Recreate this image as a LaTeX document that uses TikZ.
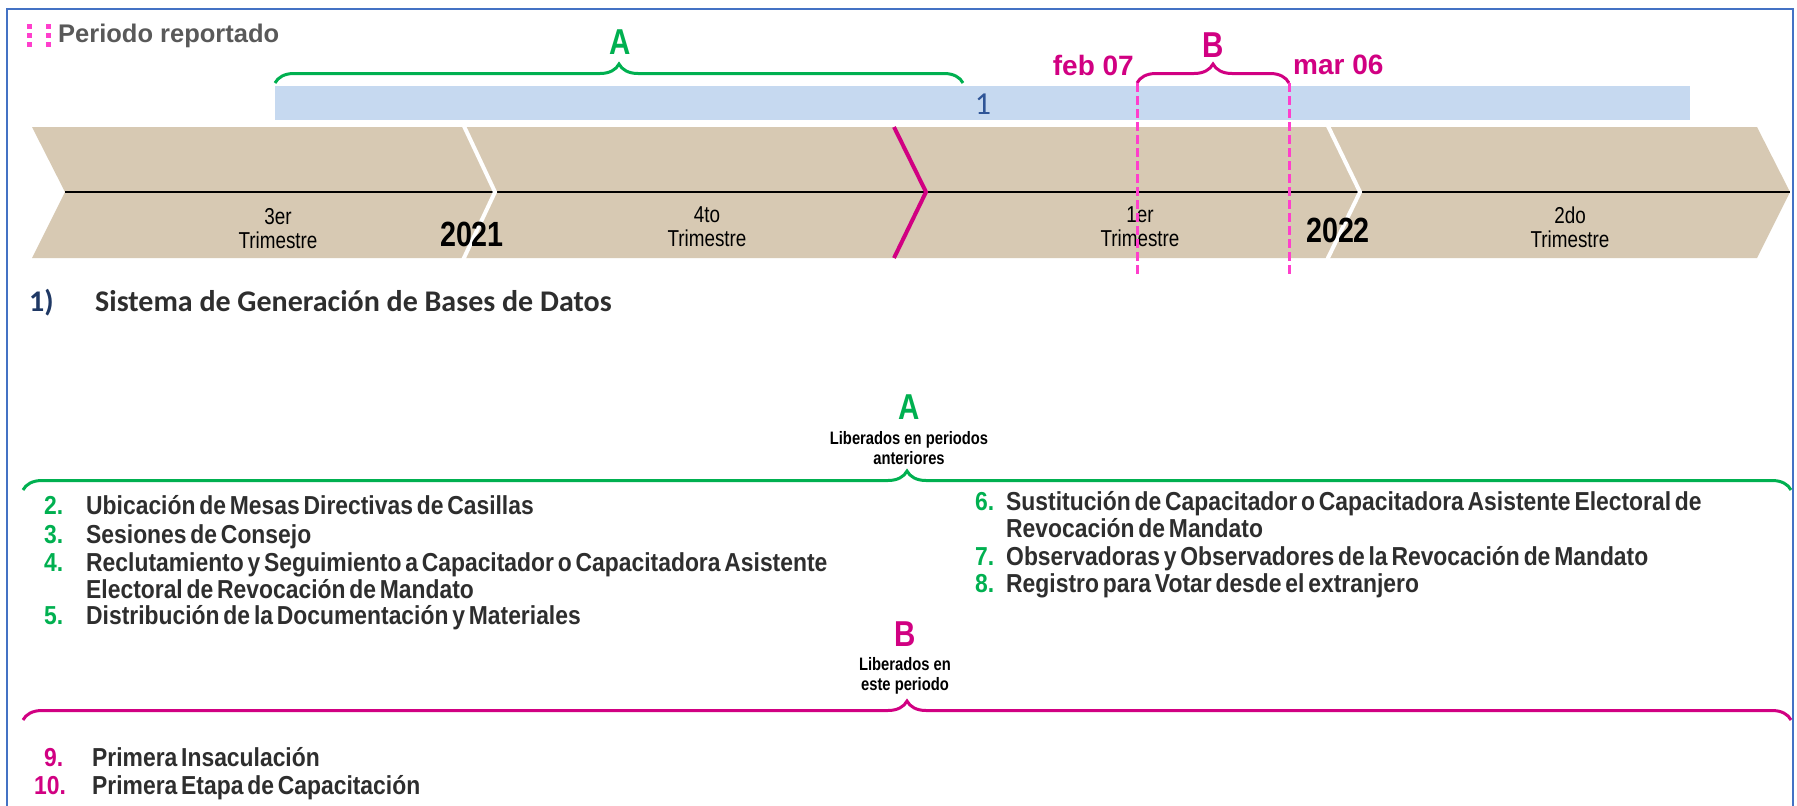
\documentclass[tikz,border=0pt]{standalone}
\usepackage{fontspec}
\setmainfont{Liberation Sans}
\newfontfamily\narrowf[FakeStretch=0.82]{Liberation Sans}
\newfontfamily\listf[FakeStretch=0.88,WordSpace=0.6]{Liberation Sans}
\newfontfamily\calib{Carlito}
\usetikzlibrary{decorations.pathreplacing}
\definecolor{frameblue}{HTML}{4472C4}
\definecolor{tanc}{HTML}{D7C9B3}
\definecolor{barblue}{HTML}{C6D9F0}
\definecolor{grn}{HTML}{00B050}
\definecolor{mag}{HTML}{D10082}
\definecolor{pinkc}{HTML}{FF3FCC}
\definecolor{navy}{HTML}{1F3864}
\definecolor{txtc}{HTML}{2E2E2E}
\definecolor{greyc}{HTML}{595959}
\definecolor{onec}{HTML}{2F5597}
\newcommand{\fs}[1]{\fontsize{#1}{#1}\selectfont}
\begin{document}
\begin{tikzpicture}[x=1pt,y=-1pt,
  item/.style={font=\listf\bfseries\fs{26}, text=txtc, inner sep=0pt, anchor=base west},
  gnum/.style={item, text=grn},
  mnum/.style={item, text=mag},
  bigletter/.style={font=\narrowf\bfseries\fs{36}, inner sep=0pt},
  datelbl/.style={font=\bfseries\fs{28}, text=mag, inner sep=0pt},
  small/.style={font=\narrowf\bfseries\fs{18}, align=center, inner sep=0pt},
  trim/.style={font=\narrowf\fontsize{23}{23}\selectfont, align=center, inner sep=0pt, text=black},
  year/.style={font=\narrowf\bfseries\fs{35}, inner sep=0pt, text=black},
  bracestyle/.style={decorate, decoration={brace, amplitude=19pt}, line width=3pt},
  dashline/.style={pinkc, line width=3pt, dash pattern=on 9pt off 4pt},
  dot/.style={fill=pinkc, draw=none, minimum size=5pt, inner sep=0pt}]
\useasboundingbox (0,0) rectangle (1797,806);
\fill[white] (0,0) rectangle (1797,806);
% frame
\draw[frameblue, line width=2pt] (7,812) -- (7,9) -- (1793,9) -- (1793,812);
% legend icon
\foreach \i/\yy in {1/26,2/35,3/44}{
  \node[dot] (dl\i) at (29,\yy) {};
  \node[dot] (dr\i) at (48,\yy) {};
}
\node[font=\bfseries\fs{25.5}, text=greyc, anchor=west, inner sep=0pt] (leg) at (58,36) {Periodo reportado};
% blue bar
\fill[barblue] (275,86) rectangle (1690,120);
\node[font=\calib\fs{32}, text=onec, inner sep=0pt] (one) at (983,104) {1};
% chevron band
\fill[tanc] (32,127) -- (1757,127) -- (1790,192) -- (1757,258) -- (32,258) -- (65,192) -- cycle;
\coordinate (l0) at (65,192);
\coordinate (l1) at (1790,192);
\draw[black, line width=2pt] (l0) -- (l1);
\draw[white, line width=4pt] (463,124) -- (495,192) -- (463,260);
\draw[white, line width=4pt] (1327,124) -- (1360,192) -- (1327,260);
\draw[mag, line width=4pt] (894,127) -- (926,192) -- (894,258);
% timeline labels
\node[trim] (q3) at (278,229) {3er\\[1pt]Trimestre};
\node[trim] (q4) at (707,227) {4to\\[1pt]Trimestre};
\node[trim] (q1) at (1140,227) {1er\\[1pt]Trimestre};
\node[trim] (q2) at (1570,227) {2do\\[1pt]Trimestre};
\node[year] (y21) at (472,234) {2021};
\node[year] (y22) at (1338,230) {2022};
% top braces
\coordinate (aL) at (275,83);
\coordinate (aR) at (963,83);
\draw[bracestyle, grn] (aL) -- (aR);
\node[bigletter, text=grn] (Atop) at (620,42) {A};
\coordinate (bL) at (1137,83);
\coordinate (bR) at (1289,83);
\draw[bracestyle, mag] (bL) -- (bR);
\node[bigletter, text=mag] (Btop) at (1213,45) {B};
\node[datelbl, anchor=east] (feb) at (1134,65) {feb 07};
\node[datelbl, anchor=west] (mar) at (1293,65) {mar 06};
% dashed lines
\coordinate (d1b) at (1137,275);
\coordinate (d2b) at (1289,275);
\draw[dashline] (bL) -- (d1b);
\draw[dashline] (bR) -- (d2b);
% heading
\node[font=\calib\bfseries\fs{30}, text=navy, anchor=base west, inner sep=0pt] (h1) at (29,311) {1)};
\node[font=\calib\bfseries\fs{30}, text=txtc, anchor=base west, inner sep=0pt] (h2) at (95,311) {Sistema de Generación de Bases de Datos};
% section A
\node[bigletter, text=grn] (Alow) at (909,407) {A};
\node[small] (Atxt) at (909,448) {Liberados en periodos\\[2pt]anteriores};
\coordinate (gL) at (23,490);
\coordinate (gR) at (1791,490);
\draw[bracestyle, grn] (gL) -- (gR);
\node[gnum] (n2) at (44,514) {2.};
\node[item] (t2) at (86,514) {Ubicación de Mesas Directivas de Casillas};
\node[gnum] (n3) at (44,543) {3.};
\node[item] (t3) at (86,543) {Sesiones de Consejo};
\node[gnum] (n4) at (44,571) {4.};
\node[item] (t4) at (86,571) {Reclutamiento y Seguimiento a Capacitador o Capacitadora Asistente};
\node[item] (t4b) at (86,598) {Electoral de Revocación de Mandato};
\node[gnum] (n5) at (44,624) {5.};
\node[item] (t5) at (86,624) {Distribución de la Documentación y Materiales};
\node[gnum] (n6) at (975,510) {6.};
\node[item] (t6) at (1006,510) {Sustitución de Capacitador o Capacitadora Asistente Electoral de};
\node[item] (t6b) at (1006,537) {Revocación de Mandato};
\node[gnum] (n7) at (975,565) {7.};
\node[item] (t7) at (1006,565) {Observadoras y Observadores de la Revocación de Mandato};
\node[gnum] (n8) at (975,592) {8.};
\node[item] (t8) at (1006,592) {Registro para Votar desde el extranjero};
% section B
\node[bigletter, text=mag] (Blow) at (905,634) {B};
\node[small] (Btxt) at (905,676) {Liberados en\\[2pt]este periodo};
\coordinate (mL) at (23,720);
\coordinate (mR) at (1791,720);
\draw[bracestyle, mag] (mL) -- (mR);
\node[mnum] (n9) at (44,766) {9.};
\node[item] (t9) at (92,766) {Primera Insaculación};
\node[mnum] (n10) at (34,794) {10.};
\node[item] (t10) at (92,794) {Primera Etapa de Capacitación};
\end{tikzpicture}
\end{document}
